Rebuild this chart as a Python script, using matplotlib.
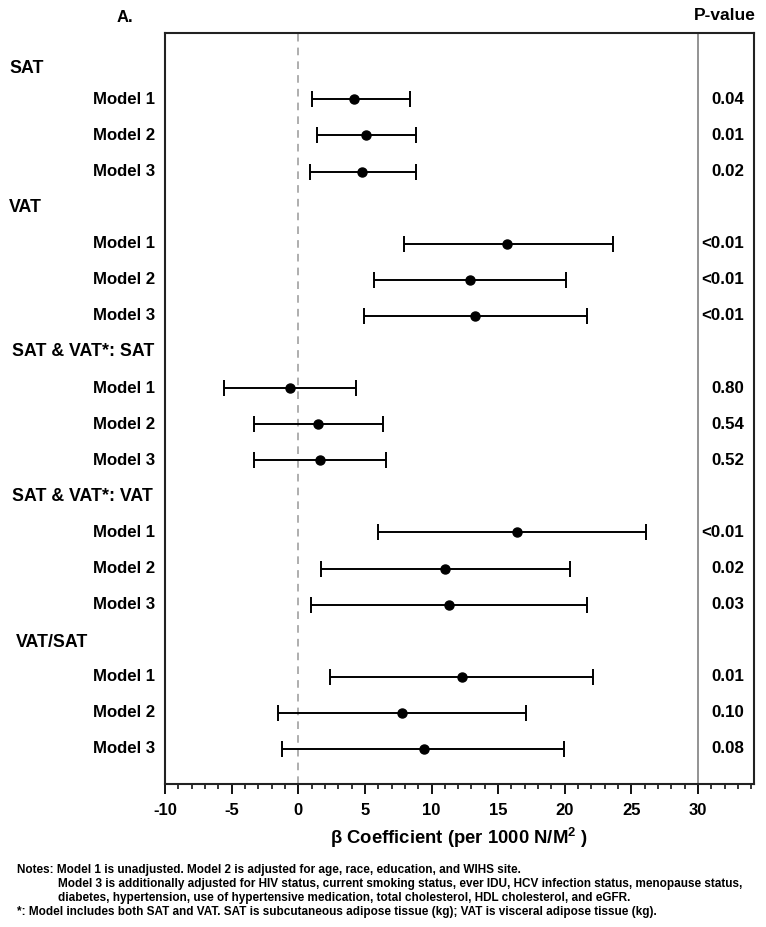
import matplotlib
matplotlib.use("Agg")
import matplotlib.pyplot as plt
import matplotlib.transforms as mtransforms
from matplotlib.ticker import MultipleLocator
import numpy as np

plt.rcParams['font.family'] = ['Liberation Sans', 'DejaVu Sans']
plt.rcParams['font.weight'] = 'bold'
plt.rcParams['mathtext.fontset'] = 'custom'
plt.rcParams['mathtext.bf'] = 'Liberation Sans:bold'
plt.rcParams['mathtext.rm'] = 'Liberation Sans:bold'

# ---- data ----
groups = ["SAT", "VAT", "SAT & VAT*: SAT", "SAT & VAT*: VAT", "VAT/SAT"]
models = ["Model 1", "Model 2", "Model 3"]
beta = [4.2, 5.1, 4.8,
        15.7, 12.9, 13.3,
        -0.6, 1.45, 1.6,
        16.4, 11.0, 11.3,
        12.3, 7.8, 9.4]
ci_low = [1.0, 1.4, 0.85,
          7.9, 5.7, 4.9,
          -5.6, -3.3, -3.3,
          6.0, 1.7, 0.95,
          2.4, -1.5, -1.25]
ci_high = [8.4, 8.85, 8.85,
           23.6, 20.1, 21.65,
           4.3, 6.35, 6.55,
           26.1, 20.4, 21.65,
           22.15, 17.1, 19.95]
pvalues = ["0.04", "0.01", "0.02",
           "<0.01", "<0.01", "<0.01",
           "0.80", "0.54", "0.52",
           "<0.01", "0.02", "0.03",
           "0.01", "0.10", "0.08"]
xticks = [-10, -5, 0, 5, 10, 15, 20, 25, 30]

# ---- layout rows ----
model_rows = []
header_rows = []
for g in range(len(groups)):
    header_rows.append(g * 4)
    for m in range(3):
        model_rows.append(g * 4 + m + 1)
header_offsets = [0.15, 0.0, 0.0, 0.0, 0.04]
header_xpix = [9, 9, 12, 12, 16]

fig = plt.figure(figsize=(7.66, 9.27), dpi=100)
ax = fig.add_axes([0.2154, 0.1543, 0.9843 - 0.2154, 0.9641 - 0.1543])

beta = np.array(beta)
lo = beta - np.array(ci_low)
hi = np.array(ci_high) - beta
ax.errorbar(beta, model_rows, xerr=[lo, hi], fmt='o', color='black',
            ecolor='black', elinewidth=1.4, capsize=5.5, capthick=1.4,
            markersize=6.5, zorder=3)

ax.axvline(0, color='#999999', linestyle=(0, (5, 4)), linewidth=1.1, zorder=1)
ax.axvline(30, color='#808080', linestyle='-', linewidth=1.2, zorder=1)

ax.set_xlim(-10, 34.2)
ax.set_ylim(19.97, -0.83)
ax.set_yticks([])
ax.set_xticks(xticks)
ax.set_xticklabels([str(t) for t in xticks], fontsize=12, fontweight='bold')
ax.xaxis.set_minor_locator(MultipleLocator(1))
ax.tick_params(axis='x', which='major', length=7, width=1.3, direction='out', pad=7)
ax.tick_params(axis='x', which='minor', length=3.5, width=1.1, direction='out')
for s in ax.spines.values():
    s.set_linewidth(1.5)
    s.set_color('#222222')

trans = mtransforms.blended_transform_factory(fig.transFigure, ax.transData)
for g, r in enumerate(header_rows):
    ax.text(header_xpix[g] / 766, r + header_offsets[g], groups[g], transform=trans,
            ha='left', va='center', fontsize=12.8, fontweight='bold')
for i, r in enumerate(model_rows):
    ax.text(155 / 766, r, models[i % 3], transform=trans, ha='right',
            va='center', fontsize=12.1, fontweight='bold')
    ax.text(744 / 766, r, pvalues[i], transform=trans, ha='right',
            va='center', fontsize=12.2, fontweight='bold')

fig.text(117 / 766, 1 - 18 / 927, "A.", ha='left', va='center',
         fontsize=12, fontweight='bold')
fig.text(756 / 766, 1 - 16 / 927, "P-value", ha='right', va='center',
         fontsize=12.5, fontweight='bold')

fig.text(458.5 / 766, 1 - 838 / 927, r"β Coefficient (per 1000 N/M$^{2}$ )",
         ha='center', va='center', fontsize=13.3, fontweight='bold')

note_font = ['Liberation Sans', 'DejaVu Sans']
fs_note = 8.5
fig.text(17 / 766, 1 - 870 / 927,
         "Notes: Model 1 is unadjusted. Model 2 is adjusted for age, race, education, and WIHS site.",
         ha='left', va='center', fontsize=fs_note, fontweight='bold', family=note_font)
fig.text(58 / 766, 1 - 884 / 927,
         "Model 3 is additionally adjusted for HIV status, current smoking status, ever IDU, HCV infection status, menopause status,",
         ha='left', va='center', fontsize=fs_note, fontweight='bold', family=note_font)
fig.text(58 / 766, 1 - 898 / 927,
         "diabetes, hypertension, use of hypertensive medication, total cholesterol, HDL cholesterol, and eGFR.",
         ha='left', va='center', fontsize=fs_note, fontweight='bold', family=note_font)
fig.text(17 / 766, 1 - 912 / 927,
         "*: Model includes both SAT and VAT. SAT is subcutaneous adipose tissue (kg); VAT is visceral adipose tissue (kg).",
         ha='left', va='center', fontsize=fs_note, fontweight='bold', family=note_font)

fig.savefig("out.png", dpi=100)
